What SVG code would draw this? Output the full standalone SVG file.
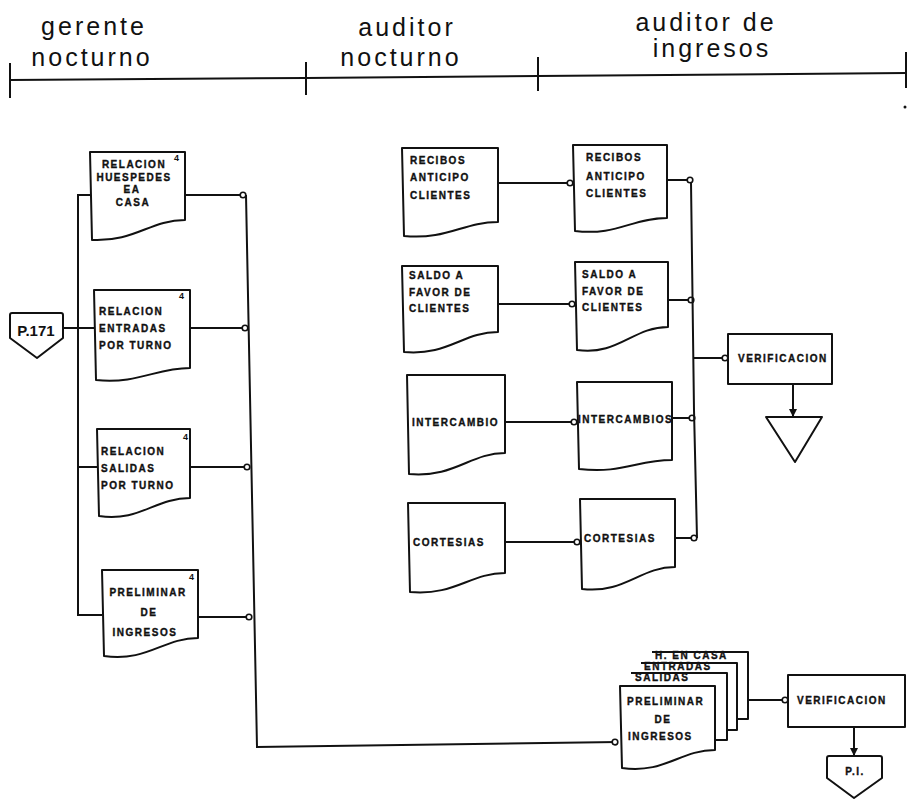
<svg xmlns="http://www.w3.org/2000/svg" width="916" height="800" viewBox="0 0 916 800">
  <style>
    .lane { font-family: "Liberation Sans", Arial, sans-serif; font-size: 25px; letter-spacing: 3px; fill: #111; text-anchor: middle; }
    .shape { fill: #fff; stroke: #111; stroke-width: 2; stroke-linejoin: round; }
    .wire { fill: none; stroke: #111; stroke-width: 2; }
    .t { font-family: "Liberation Sans", Arial, sans-serif; font-weight: bold; font-size: 10px; letter-spacing: 1.5px; fill: #111; stroke: #111; stroke-width: 0.35; }
    .c { text-anchor: middle; }
    .n { font-family: "Liberation Sans", Arial, sans-serif; font-weight: bold; font-size: 9px; fill: #111; }
  </style>
  <defs>
    <marker id="dot" viewBox="0 0 8 8" refX="7" refY="4" markerWidth="8" markerHeight="8" markerUnits="userSpaceOnUse" orient="auto">
      <circle cx="4" cy="4" r="2.8" fill="#fff" stroke="#111" stroke-width="1.6"/>
    </marker>
    <marker id="tip" viewBox="0 0 8 8" refX="8" refY="4" markerWidth="8" markerHeight="8" markerUnits="userSpaceOnUse" orient="auto">
      <path d="M0,0 L8,4 L0,8 Z" fill="#111"/>
    </marker>
  </defs>

  <!-- swimlane header -->
  <g id="header">
    <text class="lane" x="94" y="35">gerente</text>
    <text class="lane" x="92" y="66">nocturno</text>
    <text class="lane" x="407" y="36">auditor</text>
    <text class="lane" x="401" y="66">nocturno</text>
    <text class="lane" x="706" y="31">auditor de</text>
    <text class="lane" x="712" y="57">ingresos</text>
    <path class="wire" d="M10,80 L306,78 L538,76 L906,73"/>
    <path class="wire" d="M10,63 V98 M306,62 V95 M538,57 V91 M906,52 V88"/>
    <circle cx="905" cy="107" r="1.5" fill="#111"/>
  </g>

  <!-- connectors -->
  <g id="connectors">
    <path class="wire" d="M63,328 H94"/>
    <path class="wire" d="M90,195 H78 V615 H102"/>
    <path class="wire" d="M78,467 H97"/>
    <path class="wire" d="M185,195 H246" marker-end="url(#dot)"/>
    <path class="wire" d="M190,328 H248" marker-end="url(#dot)"/>
    <path class="wire" d="M190,467 H250" marker-end="url(#dot)"/>
    <path class="wire" d="M198,617 H252" marker-end="url(#dot)"/>
    <path class="wire" d="M246,195 L257,747 L618,742" marker-end="url(#dot)"/>

    <path class="wire" d="M498,183 H573" marker-end="url(#dot)"/>
    <path class="wire" d="M498,304 H575" marker-end="url(#dot)"/>
    <path class="wire" d="M505,422 H577" marker-end="url(#dot)"/>
    <path class="wire" d="M505,542 H580" marker-end="url(#dot)"/>

    <path class="wire" d="M667,180 H693" marker-end="url(#dot)"/>
    <path class="wire" d="M668,300 H694" marker-end="url(#dot)"/>
    <path class="wire" d="M672,418 H695" marker-end="url(#dot)"/>
    <path class="wire" d="M675,538 H697" marker-end="url(#dot)"/>
    <path class="wire" d="M691,182 L694,410 L697,538"/>
    <path class="wire" d="M694,358 H728" marker-end="url(#dot)"/>
    <path class="wire" d="M793,384 V417" marker-end="url(#tip)"/>

    <path class="wire" d="M748,700 H788" marker-end="url(#dot)"/>
    <path class="wire" d="M854,727 V756" marker-end="url(#tip)"/>
  </g>

  <!-- off-page connector from P.171 -->
  <g id="p171">
    <path class="shape" d="M12,313 H61 Q63,313 63,315 V338 L37,358 L10,338 V315 Q10,313 12,313 Z"/>
    <text x="36" y="336" font-family="Liberation Sans, Arial, sans-serif" font-weight="bold" font-size="15" text-anchor="middle" fill="#111">P.171</text>
  </g>

  <!-- night manager documents -->
  <g id="doc-huespedes">
    <path class="shape" d="M90,152 H185 V220 C150,220 135,242 92,240 Z"/>
    <text class="n" x="174" y="161">4</text>
    <text class="t c" x="134" y="168">RELACION</text>
    <text class="t c" x="134" y="181">HUESPEDES</text>
    <text class="t c" x="132" y="193">EA</text>
    <text class="t c" x="133" y="206">CASA</text>
  </g>
  <g id="doc-entradas">
    <path class="shape" d="M94,290 H190 V368 C155,368 140,384 96,380 Z"/>
    <text class="n" x="179" y="299">4</text>
    <text class="t" x="99" y="315">RELACION</text>
    <text class="t" x="99" y="332">ENTRADAS</text>
    <text class="t" x="99" y="349">POR TURNO</text>
  </g>
  <g id="doc-salidas">
    <path class="shape" d="M97,429 H190 V498 C155,498 140,522 99,516 Z"/>
    <text class="n" x="183" y="440">4</text>
    <text class="t" x="101" y="455">RELACION</text>
    <text class="t" x="101" y="472">SALIDAS</text>
    <text class="t" x="101" y="489">POR TURNO</text>
  </g>
  <g id="doc-preliminar">
    <path class="shape" d="M102,570 H198 V638 C163,638 148,662 104,656 Z"/>
    <text class="n" x="189" y="580">4</text>
    <text class="t c" x="148" y="596" letter-spacing="1">PRELIMINAR</text>
    <text class="t c" x="149" y="616">DE</text>
    <text class="t c" x="145" y="636">INGRESOS</text>
  </g>

  <!-- night auditor documents -->
  <g id="doc-recibos-1">
    <path class="shape" d="M402,148 H498 V222 C463,222 448,240 404,236 Z"/>
    <text class="t" x="410" y="164">RECIBOS</text>
    <text class="t" x="410" y="181">ANTICIPO</text>
    <text class="t" x="410" y="199">CLIENTES</text>
  </g>
  <g id="doc-saldo-1">
    <path class="shape" d="M402,266 H498 V332 C463,332 448,356 404,352 Z"/>
    <text class="t" x="409" y="279">SALDO A</text>
    <text class="t" x="409" y="296">FAVOR DE</text>
    <text class="t" x="409" y="312">CLIENTES</text>
  </g>
  <g id="doc-intercambio-1">
    <path class="shape" d="M407,375 H505 V453 C470,453 455,478 409,474 Z"/>
    <text class="t" x="412" y="426" letter-spacing="0.8">INTERCAMBIO</text>
  </g>
  <g id="doc-cortesias-1">
    <path class="shape" d="M408,503 H505 V573 C470,573 455,596 410,592 Z"/>
    <text class="t" x="413" y="546" letter-spacing="1.2">CORTESIAS</text>
  </g>

  <!-- revenue auditor documents -->
  <g id="doc-recibos-2">
    <path class="shape" d="M573,145 H667 V218 C632,218 617,236 575,231 Z"/>
    <text class="t" x="586" y="161">RECIBOS</text>
    <text class="t" x="586" y="180">ANTICIPO</text>
    <text class="t" x="586" y="197">CLIENTES</text>
  </g>
  <g id="doc-saldo-2">
    <path class="shape" d="M575,262 H668 V327 C633,327 618,356 577,350 Z"/>
    <text class="t" x="582" y="278">SALDO A</text>
    <text class="t" x="582" y="295">FAVOR DE</text>
    <text class="t" x="582" y="311">CLIENTES</text>
  </g>
  <g id="doc-intercambio-2">
    <path class="shape" d="M577,382 H672 V460 C637,460 622,474 579,469 Z"/>
    <text class="t" x="578" y="423" letter-spacing="0.1">INTERCAMBIOS</text>
  </g>
  <g id="doc-cortesias-2">
    <path class="shape" d="M580,499 H675 V567 C640,567 625,594 582,589 Z"/>
    <text class="t" x="584" y="542" letter-spacing="2.4">CORTESIAS</text>
  </g>

  <g id="verificacion-1">
    <rect class="shape" x="728" y="334" width="104" height="50"/>
    <text class="t" x="738" y="362" letter-spacing="2.2">VERIFICACION</text>
  </g>
  <g id="archivo">
    <path class="shape" d="M766,417 H822 L795,462 Z"/>
  </g>

  <!-- stacked report set -->
  <g id="juego-reportes">
    <path class="shape" d="M652,652 H748 V719 H737"/>
    <text class="t" x="655" y="659" letter-spacing="0.4">H. EN CASA</text>
    <path class="shape" d="M641,663 H737 V730 H727"/>
    <text class="t" x="644" y="670" letter-spacing="0.4">ENTRADAS</text>
    <path class="shape" d="M631,673 H727 V740 H715"/>
    <text class="t" x="635" y="681" letter-spacing="1">SALIDAS</text>
    <path class="shape" d="M620,686 H715 V750 C680,750 665,774 622,768 Z"/>
    <text class="t" x="627" y="705" letter-spacing="1">PRELIMINAR</text>
    <text class="t c" x="663" y="723">DE</text>
    <text class="t" x="628" y="740">INGRESOS</text>
  </g>

  <g id="verificacion-2">
    <rect class="shape" x="788" y="675" width="117" height="52"/>
    <text class="t" x="797" y="704" letter-spacing="1.4">VERIFICACION</text>
  </g>
  <g id="pi">
    <path class="shape" d="M829,756 H880 Q882,756 882,758 V778 L854,798 L827,778 V758 Q827,756 829,756 Z"/>
    <text class="t c" x="855" y="775" letter-spacing="0.5">P.I.</text>
  </g>
</svg>
